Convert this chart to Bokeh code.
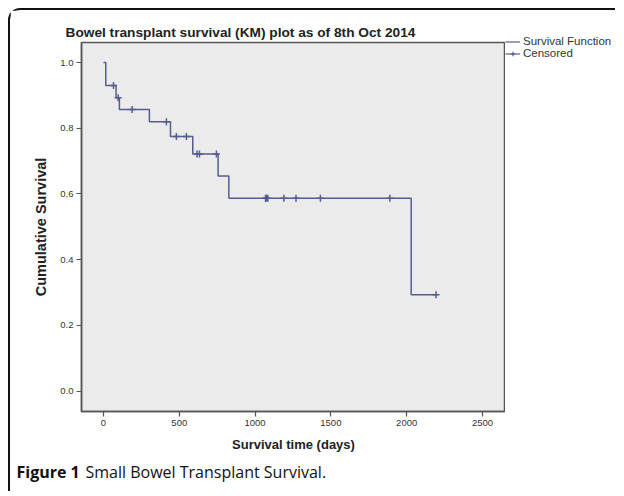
from bokeh.plotting import figure
from bokeh.models import (Legend, LegendItem, FixedTicker, PrintfTickFormatter, Label)
from bokeh.layouts import column, row
from bokeh.embed import file_html
from bokeh.resources import INLINE

# ---- data ----
step_days = [0, 15, 83, 105, 303, 442, 589, 756, 827, 2030, 2194]
step_surv = [1.0, 0.93, 0.893, 0.857, 0.82, 0.775, 0.722, 0.655, 0.587, 0.293, 0.293]
cens_days = [66, 97, 189, 415, 481, 547, 617, 633, 745, 1069, 1076, 1084, 1190, 1270, 1431, 1889, 2194]
cens_surv = [0.93, 0.893, 0.857, 0.82, 0.775, 0.775, 0.722, 0.722, 0.722, 0.587, 0.587, 0.587,
             0.587, 0.587, 0.587, 0.587, 0.293]
x_ticks = [0, 500, 1000, 1500, 2000, 2500]
y_ticks = [0.0, 0.2, 0.4, 0.6, 0.8, 1.0]

title_text = "Bowel transplant survival (KM) plot as of 8th Oct 2014"
legend_labels = ["Survival Function", "Censored"]
caption_bold = "Figure 1"
caption_rest = "Small Bowel Transplant Survival."

LINE = "#555d8f"
FRAME = "#555555"
FONT = "Liberation Sans"

# ---------------- main plot ----------------
p = figure(width=495, height=445, x_range=(-145, 2652), y_range=(-0.062, 1.061),
           output_backend="svg", toolbar_location=None, title=title_text,
           min_border_left=71, min_border_right=0, min_border_top=32, min_border_bottom=44)

p.title.align = "left"
p.title.offset = -16
p.title.text_font = FONT
p.title.text_font_size = "13.7px"
p.title.text_font_style = "bold"
p.title.text_color = "#222222"
p.title.standoff = 6

p.background_fill_color = "#ebebeb"
p.border_fill_color = "white"
p.outline_line_color = FRAME
p.outline_line_width = 1.5
p.xgrid.visible = False
p.ygrid.visible = False

p.step(step_days, step_surv, mode="after", line_color=LINE, line_width=1.5)
p.scatter(cens_days, cens_surv, marker="cross", size=7, line_color=LINE, line_width=1.5)

for ax in (p.xaxis[0], p.yaxis[0]):
    ax.axis_line_color = FRAME
    ax.axis_line_width = 1.5
    ax.major_tick_line_color = FRAME
    ax.major_tick_line_width = 1.2
    ax.major_tick_out = 5
    ax.major_tick_in = 0
    ax.minor_tick_line_color = None
    ax.major_label_text_font = FONT
    ax.major_label_text_font_size = "9.5px"
    ax.major_label_text_color = "#333333"
    ax.axis_label_text_font = FONT
    ax.axis_label_text_font_style = "bold"
    ax.axis_label_text_color = "#222222"

p.xaxis.ticker = FixedTicker(ticks=x_ticks)
p.yaxis.ticker = FixedTicker(ticks=y_ticks)
p.yaxis.formatter = PrintfTickFormatter(format="%.1f")
p.xaxis.axis_label = "Survival time (days)"
p.yaxis.axis_label = "Cumulative Survival"
p.xaxis.axis_label_text_font_size = "13px"
p.yaxis.axis_label_text_font_size = "14.5px"
p.xaxis.major_label_standoff = 3
p.yaxis.major_label_standoff = 3
p.xaxis.axis_label_standoff = 8
p.yaxis.axis_label_standoff = 8

# ---------------- legend panel (same series, ranges kept off-data so only the key shows) ----
pl = figure(width=110, height=445, output_backend="svg", toolbar_location=None, title=None,
            x_range=(-20000, -19990), y_range=(-20000, -19990),
            x_axis_location=None, y_axis_location=None,
            min_border_left=0, min_border_right=0,
            min_border_top=25, min_border_bottom=0)
pl.outline_line_color = None
pl.grid.visible = False
l_step = pl.step(step_days, step_surv, mode="after", line_color=LINE, line_width=1.2)
l_cens = pl.scatter(cens_days, cens_surv, marker="cross", size=7, line_color=LINE, line_width=1.2)
legend = Legend(items=[LegendItem(label=legend_labels[0], renderers=[l_step]),
                       LegendItem(label=legend_labels[1], renderers=[l_step, l_cens])],
                location="top_left", orientation="vertical",
                background_fill_alpha=0, border_line_color=None,
                padding=0, margin=0, spacing=0, glyph_width=15, glyph_height=11,
                label_standoff=3, label_height=11,
                label_text_font=FONT, label_text_font_size="11.5px", label_text_color="#333333")
pl.add_layout(legend)

# ---------------- caption ----------------
pc = figure(width=605, height=36, output_backend="svg", toolbar_location=None, title=None,
            x_axis_location=None, y_axis_location=None,
            min_border_left=0, min_border_right=0,
            min_border_top=0, min_border_bottom=0)
pc.outline_line_color = None
pc.grid.visible = False
pc.add_layout(Label(x=6, y=20, x_units="screen", y_units="screen", text=caption_bold,
                    text_font="Open Sans", text_font_style="bold", text_font_size="16px",
                    text_baseline="middle", text_color="#111111"))
pc.add_layout(Label(x=75, y=20, x_units="screen", y_units="screen", text=caption_rest,
                    text_font="Open Sans", text_font_size="16px",
                    text_baseline="middle", text_color="#111111"))

layout = column(row(p, column(pl)), pc, margin=(8, 0, 0, 8),
                styles={"border-left": "2px solid #111", "border-top": "2px solid #111",
                        "border-top-left-radius": "12px"})

open("out.html", "w").write(file_html(layout, INLINE))
